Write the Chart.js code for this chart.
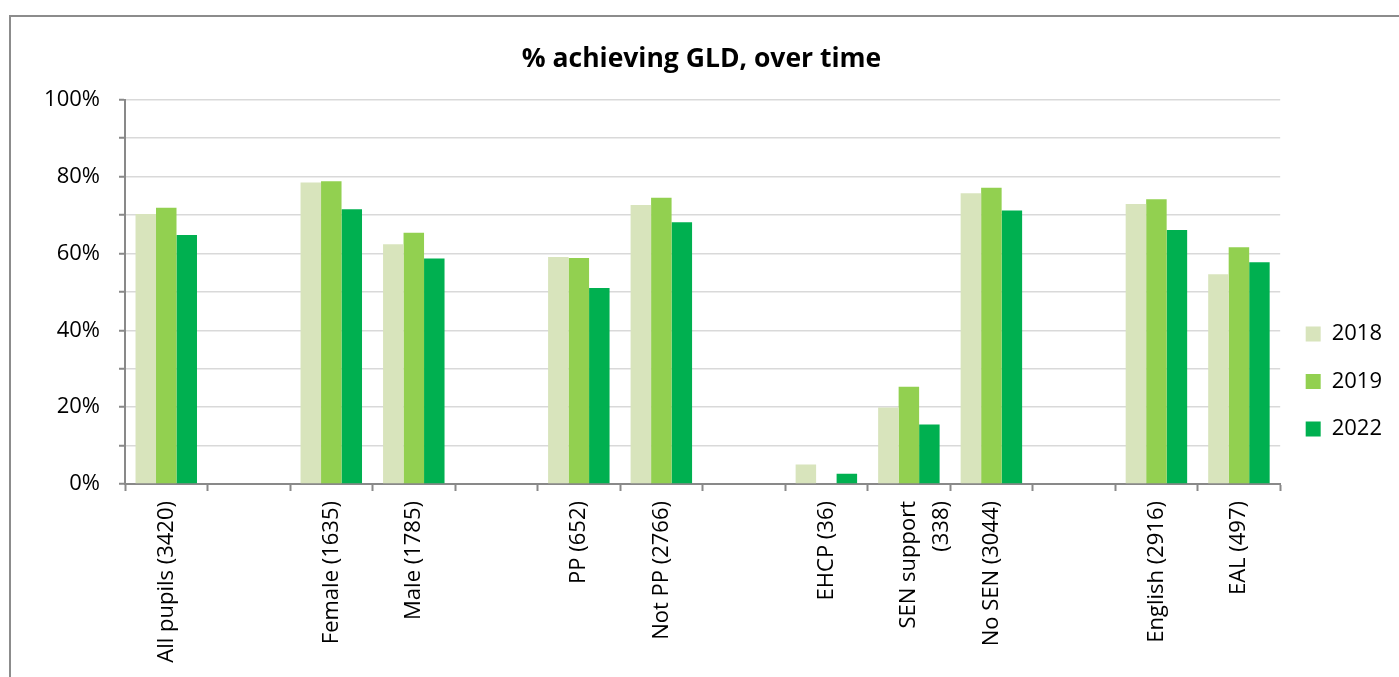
<!DOCTYPE html>
<html>
<head>
<meta charset="utf-8">
<script src="https://cdn.jsdelivr.net/npm/chart.js@4/dist/chart.umd.min.js"></script>
<style>
  html, body { margin: 0; padding: 0; background: #fff; overflow: hidden; width: 1399px; height: 677px; }
  #frame { position: absolute; left: 9px; top: 15px; width: 1500px; height: 800px; border: 2px solid #8c8c8c; box-sizing: border-box; }
  #wrap { position: absolute; left: 11px; top: 17px; width: 1388px; height: 729px; }
</style>
</head>
<body>
<div id="frame"></div>
<div id="wrap"><canvas id="gld"></canvas></div>
<script>
// categories (blank slots separate the groups, as in the original)
var categories = ["All pupils (3420)", "", "Female (1635)", "Male (1785)", "", "PP (652)", "Not PP (2766)", "",
  "EHCP (36)", ["SEN support", "(338)"], "No SEN (3044)", "", "English (2916)", "EAL (497)"];
var years = ["2018", "2019", "2022"];
var values2018 = [70.3, null, 78.5, 62.4, null, 59.1, 72.6, null, 5.1, 19.9, 75.7, null, 72.9, 54.6];
var values2019 = [71.9, null, 78.8, 65.4, null, 58.8, 74.5, null, null, 25.3, 77.1, null, 74.1, 61.6];
var values2022 = [64.8, null, 71.5, 58.7, null, 51.0, 68.1, null, 2.7, 15.5, 71.2, null, 66.1, 57.7];
var yearColors = ["#D8E4BC", "#92D050", "#00B050"];

var fontFamily = "'Open Sans', 'Noto Sans', sans-serif";
var axisGrey = "#898989";

var gld_chart = new Chart("gld", {
  type: "bar",
  data: {
    labels: categories,
    datasets: [
      { label: years[0], data: values2018, backgroundColor: yearColors[0] },
      { label: years[1], data: values2019, backgroundColor: yearColors[1] },
      { label: years[2], data: values2022, backgroundColor: yearColors[2] }
    ]
  },
  options: {
    responsive: true,
    maintainAspectRatio: false,
    animation: false,
    layout: { padding: { right: 7 } },
    datasets: {
      bar: { barPercentage: 1, categoryPercentage: 0.745, borderWidth: 0 }
    },
    plugins: {
      title: {
        display: true,
        text: "% achieving GLD, over time",
        color: "#000",
        font: { family: fontFamily, size: 26.5, weight: "bold" },
        padding: { top: 27, bottom: 24 }
      },
      legend: {
        position: "right",
        labels: {
          color: "#000",
          font: { family: fontFamily, size: 22 },
          boxWidth: 15,
          boxHeight: 15,
          padding: 25.5
        }
      },
      tooltip: { enabled: false }
    },
    scales: {
      x: {
        grid: { drawOnChartArea: false, tickLength: 7, tickColor: axisGrey, tickWidth: 2 },
        border: { color: axisGrey, width: 2 },
        ticks: {
          color: "#000",
          font: { family: fontFamily, size: 22, lineHeight: 1.5 },
          minRotation: 90,
          maxRotation: 90,
          autoSkip: false,
          padding: 10
        },
        afterFit: function (scale) { scale.height = 262; }
      },
      y: {
        min: 0,
        max: 100,
        grid: { color: "#D9D9D9", lineWidth: 1.5, tickLength: 6, tickColor: axisGrey, tickWidth: 2 },
        border: { color: axisGrey, width: 2 },
        ticks: {
          stepSize: 10,
          color: "#000",
          font: { family: fontFamily, size: 22 },
          padding: 19,
          callback: function (v) { return v % 20 === 0 ? v + "%" : ""; }
        },
        afterFit: function (scale) { scale.width = 114; }
      }
    }
  }
});
</script>
</body>
</html>
